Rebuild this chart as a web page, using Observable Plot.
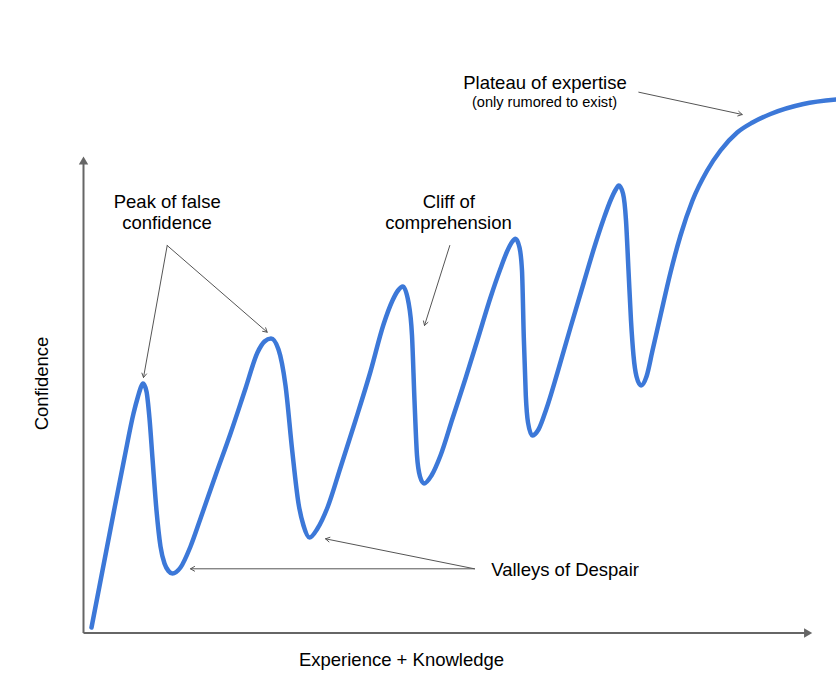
<!DOCTYPE html>
<html>
<head>
<meta charset="utf-8">
<script src="https://cdn.jsdelivr.net/npm/d3@7"></script>
<script src="https://cdn.jsdelivr.net/npm/@observablehq/plot@0.6"></script>
<style>
  html, body { margin: 0; padding: 0; background: #fff; overflow: hidden; }
  #chart svg { display: block; }
</style>
</head>
<body>
<div id="chart"></div>
<script>
// Confidence curve (experience 0-150, confidence 0-120)
const experience = [
  1.6, 3.8, 6.0, 8.2, 10.0, 10.9, 11.5, 11.9,
  12.6, 13.2, 13.8, 14.6, 15.4, 16.2, 17.0, 17.8,
  19.4, 21.4, 23.4, 26.4, 29.4, 32.4, 34.8, 36.2, 37.5,
  39.0, 40.4, 41.74, 43.0, 44.0, 45.2,
  46.8, 48.8, 51.4, 54.4, 57.4, 60.0, 61.8, 62.9, 63.86,
  65.0, 65.7, 66.2, 66.7, 67.3, 68.1,
  69.6, 71.4, 73.8, 76.4, 79.0, 81.4, 83.4, 84.8, 85.7, 86.4,
  87.2, 87.7, 88.06, 88.46, 88.9, 89.74,
  91.0, 92.6, 94.74, 97.4, 100.06, 102.4, 104.06, 105.4, 106.4, 107.06,
  107.9, 108.5, 109.0, 109.5, 110.0, 110.6, 111.52,
  112.6, 113.8, 115.4, 117.4, 119.4, 121.8, 124.74, 127.4, 130.74, 133.8, 137.4, 144.0, 150.6];
const confidence = [
  1.1, 12.5, 23.9, 35.1, 43.9, 47.3, 49.2, 49.9,
  48.3, 42.9, 34.9, 24.5, 17.3, 13.9, 12.4, 11.9,
  13.1, 17.3, 22.9, 31.5, 39.9, 48.9, 56.1, 58.3, 58.9,
  56.7, 49.5, 36.5, 25.9, 21.5, 19.1,
  20.9, 25.1, 33.1, 42.5, 52.3, 61.7, 66.5, 68.5, 69.3,
  66.1, 59.5, 46.5, 35.5, 31.3, 29.9,
  31.5, 35.5, 42.9, 50.9, 59.3, 67.1, 72.9, 76.5, 78.2, 78.84,
  77.1, 72.5, 59.1, 47.5, 42.1, 39.5,
  40.7, 44.9, 51.9, 61.1, 70.1, 77.9, 82.9, 86.5, 88.6, 89.5,
  87.9, 82.5, 72.5, 62.5, 55.5, 51.3, 49.5,
  51.3, 56.5, 63.5, 72.1, 79.5, 86.5, 92.5, 96.5, 100.1, 102.1, 103.8, 105.8, 106.7];

// Annotation labels
const labelText = ["Peak of false", "confidence", "Cliff of", "comprehension", "Valleys of Despair",
  "Plateau of expertise", "(only rumored to exist)"];
const labelX = [16.74, 16.7, 73.06, 73.0, 81.54, 92.3, 92.2];
const labelY = [85.04, 80.84, 85.04, 80.84, 11.5, 108.9, 105.3];
const labelAnchor = ["middle", "middle", "middle", "middle", "start", "middle", "middle"];
const labelSize = [18.5, 18.5, 18.5, 18.5, 18.5, 18.5, 14.6];

// Annotation arrows
const arrowX1 = [16.74, 16.74, 73.26, 78.2, 78.2, 111.06];
const arrowY1 = [77.5, 77.5, 77.5, 12.84, 12.84, 108.16];
const arrowX2 = [12.0, 36.74, 68.2, 21.4, 48.4, 131.74];
const arrowY2 = [51.1, 60.16, 61.5, 12.84, 18.84, 103.7];

// Axes (drawn as arrows)
const axisName = ["Experience + Knowledge", "Confidence"];
const axisEndX = [144.66, 0];
const axisEndY = [0, 94.22];
const axisHeadRotate = [90, 0];
const axisLabelX = [63.6, -7.1];
const axisLabelY = [-6.5, 49.9];
const axisLabelRotate = [0, -90];

const curve = experience.map((x, i) => ({x, y: confidence[i]}));
const labels = labelText.map((t, i) => ({t, x: labelX[i], y: labelY[i], a: labelAnchor[i], s: labelSize[i]}));
const arrows = arrowX1.map((x1, i) => ({x1, y1: arrowY1[i], x2: arrowX2[i], y2: arrowY2[i]}));
const axes = axisName.map((name, i) => ({name, x: axisEndX[i], y: axisEndY[i], rot: axisHeadRotate[i],
  lx: axisLabelX[i], ly: axisLabelY[i], lrot: axisLabelRotate[i]}));

const font = "'Liberation Sans', Arial, Helvetica, sans-serif";

const chart = Plot.plot({
  width: 836,
  height: 682,
  margin: 0,
  style: {fontFamily: font, background: "#fff", color: "#000"},
  x: {domain: [0, 150], range: [83, 833], axis: null},
  y: {domain: [0, 120], range: [632.5, 32.5], axis: null},
  marks: [
    Plot.link(axes, {x1: 0, y1: 0, x2: "x", y2: "y", stroke: "#666", strokeWidth: 2}),
    Plot.dot(axes, {x: "x", y: "y", symbol: "triangle", r: 3.5, fill: "#666", stroke: "none", rotate: "rot"}),
    Plot.text(axes.filter(d => d.lrot === 0), {x: "lx", y: "ly", text: "name", fontSize: 18.5, lineAnchor: "bottom", textAnchor: "middle", fill: "#000"}),
    Plot.text(axes.filter(d => d.lrot !== 0), {x: "lx", y: "ly", text: "name", fontSize: 18.5, lineAnchor: "bottom", textAnchor: "middle", rotate: -90, fill: "#000"}),
    Plot.line(curve, {x: "x", y: "y", stroke: "#3c78d8", strokeWidth: 4.5, curve: "monotone-x", strokeLinejoin: "round", strokeLinecap: "round"}),
    Plot.arrow(arrows, {x1: "x1", y1: "y1", x2: "x2", y2: "y2", stroke: "#555", strokeWidth: 1, headLength: 7}),
    ...labels.map(d => Plot.text([d], {x: "x", y: "y", text: "t", fontSize: d.s, textAnchor: d.a, lineAnchor: "bottom", fill: "#000"}))
  ]
});
document.getElementById("chart").appendChild(chart);
</script>
</body>
</html>
